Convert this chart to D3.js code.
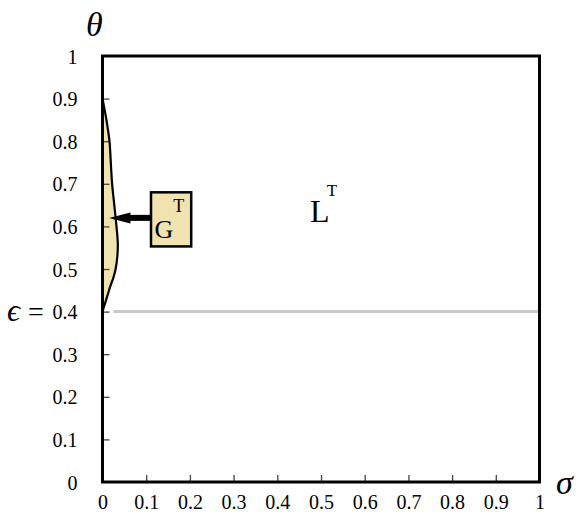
<!DOCTYPE html>
<html>
<head>
<meta charset="utf-8">
<script src="https://cdn.jsdelivr.net/npm/d3@7"></script>
<style>
  body { margin: 0; background: #fff; }
  text { font-family: "Liberation Serif", "DejaVu Serif", serif; fill: #000; }
</style>
</head>
<body>
<div id="chart"></div>
<script>
// tick values and labels
var sigmaTicks = [0, 0.1, 0.2, 0.3, 0.4, 0.5, 0.6, 0.7, 0.8, 0.9, 1];
var sigmaLabels = ["0", "0.1", "0.2", "0.3", "0.4", "0.5", "0.6", "0.7", "0.8", "0.9", "1"];
var thetaTicks = [0, 0.1, 0.2, 0.3, 0.4, 0.5, 0.6, 0.7, 0.8, 0.9, 1];
var thetaLabels = ["0", "0.1", "0.2", "0.3", "0.4", "0.5", "0.6", "0.7", "0.8", "0.9", "1"];

// boundary of the G^T region (sigma as function of theta)
var boundaryTheta = [0.40, 0.42, 0.44, 0.46, 0.48, 0.50, 0.53, 0.56, 0.60, 0.65, 0.70, 0.75, 0.80, 0.85, 0.90];
var boundarySigma = [0, 0.006, 0.012, 0.018, 0.025, 0.030, 0.034, 0.035, 0.032, 0.027, 0.022, 0.019, 0.016, 0.009, 0];

var epsilon = 0.4;

var svgWidth = 579;
var svgHeight = 512;
var margin = {top: 56, right: 39.5, bottom: 30, left: 102.5};
var width = svgWidth - margin.left - margin.right;
var height = svgHeight - margin.top - margin.bottom;

var svg = d3.select("#chart")
            .append("svg")
            .attr("width", svgWidth)
            .attr("height", svgHeight);

var chartGroup = svg.append("g")
                    .attr("transform", `translate(${margin.left},${margin.top})`);

var x = d3.scaleLinear().domain([0, 1]).range([0, width]);
var y = d3.scaleLinear().domain([0, 1]).range([height, 0]);

// region G^T
var region = boundaryTheta.map((t, i) => [boundarySigma[i], t]);
var area = d3.area()
             .curve(d3.curveCatmullRom)
             .y(d => y(d[1]))
             .x0(x(0))
             .x1(d => x(d[0]));
chartGroup.append("path")
          .datum(region)
          .attr("d", area)
          .attr("fill", "#f0e3b0");

// epsilon line
chartGroup.append("line")
          .attr("x1", x(0.025))
          .attr("x2", x(1))
          .attr("y1", y(epsilon))
          .attr("y2", y(epsilon))
          .attr("stroke", "#c8c8c8")
          .attr("stroke-width", 3);

// axes with inward ticks
var bottomAxis = d3.axisBottom(x).tickValues(sigmaTicks)
                   .tickSize(-7).tickPadding(13)
                   .tickFormat((d, i) => sigmaLabels[i]);
var leftAxis = d3.axisLeft(y).tickValues(thetaTicks)
                 .tickSize(-7).tickPadding(25)
                 .tickFormat((d, i) => thetaLabels[i]);

var gx = chartGroup.append("g")
          .attr("transform", `translate(0,${height})`)
          .call(bottomAxis);
var gy = chartGroup.append("g")
          .call(leftAxis);

[gx, gy].forEach(function(g) {
    g.attr("font-family", "Liberation Serif").attr("font-size", 20);
    g.select(".domain").remove();
    g.selectAll(".tick line").attr("stroke", "#444").attr("stroke-width", 1.3);
});
gx.selectAll(".tick text").attr("dy", "0.71em");
gy.selectAll(".tick text").attr("dy", "0.35em");
gy.selectAll(".tick").filter(d => d === 0 || d === 1).select("line").remove();
gx.selectAll(".tick").filter(d => d === 0 || d === 1).select("line").remove();

// boundary curve
var line = d3.line()
             .curve(d3.curveCatmullRom)
             .x(d => x(d[0]))
             .y(d => y(d[1]));
chartGroup.append("path")
          .datum(region)
          .attr("d", line)
          .attr("fill", "none")
          .attr("stroke", "#000")
          .attr("stroke-width", 2.2);

// frame
chartGroup.append("rect")
          .attr("x", 0).attr("y", 0)
          .attr("width", width).attr("height", height)
          .attr("fill", "none")
          .attr("stroke", "#000")
          .attr("stroke-width", 3);

// arrow to G^T region
var arrowY = y(0.62);
chartGroup.append("rect")
          .attr("x", x(0.062))
          .attr("y", arrowY - 3)
          .attr("width", x(0.11) - x(0.062))
          .attr("height", 6)
          .attr("fill", "#000");
chartGroup.append("path")
          .attr("d", `M${x(0.015)},${arrowY} L${x(0.064)},${arrowY - 5.5} L${x(0.064)},${arrowY + 5.5} Z`)
          .attr("fill", "#000");

// G^T box
chartGroup.append("rect")
          .attr("x", x(0.111))
          .attr("y", y(0.68))
          .attr("width", x(0.203) - x(0.111))
          .attr("height", y(0.553) - y(0.68))
          .attr("fill", "#f0e3b0")
          .attr("stroke", "#000")
          .attr("stroke-width", 2.5);
chartGroup.append("text")
          .attr("x", x(0.119))
          .attr("y", y(0.572))
          .attr("font-size", 26)
          .text("G");
chartGroup.append("text")
          .attr("x", x(0.162))
          .attr("y", y(0.634))
          .attr("font-size", 18)
          .text("T");

// L^T label
chartGroup.append("text")
          .attr("x", x(0.475))
          .attr("y", y(0.61))
          .attr("font-size", 32)
          .text("L");
chartGroup.append("text")
          .attr("x", x(0.513))
          .attr("y", y(0.672))
          .attr("font-size", 17)
          .text("T");

// axis titles
svg.append("text")
   .attr("x", 86)
   .attr("y", 36)
   .attr("font-size", 34)
   .attr("font-style", "italic")
   .text("θ");
svg.append("text")
   .attr("x", 556)
   .attr("y", 494)
   .attr("font-size", 34)
   .attr("font-style", "italic")
   .text("σ");

// epsilon label
svg.append("text")
   .attr("x", 7)
   .attr("y", margin.top + y(epsilon) + 9)
   .attr("font-size", 32)
   .attr("font-style", "italic")
   .text("ϵ");
svg.append("text")
   .attr("x", 28)
   .attr("y", margin.top + y(epsilon) + 9)
   .attr("font-size", 28)
   .text("=");
</script>
</body>
</html>
